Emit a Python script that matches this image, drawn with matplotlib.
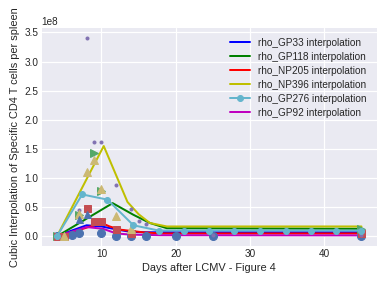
import numpy as np
import matplotlib
matplotlib.use('Agg')
import matplotlib.pyplot as plt

plt.style.use('seaborn-v0_8-darkgrid')
plt.rcParams['font.family'] = ['Liberation Sans', 'DejaVu Sans']

# measured data (units of 1e8 cells)
gp33_days = [4, 6, 7, 10, 12, 14, 16, 20, 25, 45]
gp33_vals = [0.005, 0.03, 0.05, 0.05, 0.01, 0.01, 0.01, 0.01, 0.01, 0.01]
gp118_days = [4, 7, 9, 10, 45]
gp118_vals = [0.0, 0.37, 1.43, 0.77, 0.12]
np205_days = [4, 5, 8, 9, 10, 12, 14, 45]
np205_vals = [0.0, 0.0, 0.48, 0.27, 0.26, 0.13, 0.05, 0.05]
np396_days = [7, 8, 9, 10, 12, 14, 15, 16, 25, 45]
np396_vals = [0.45, 3.4, 1.62, 1.62, 0.88, 0.47, 0.26, 0.22, 0.03, 0.02]
gp276_days = [5, 7, 8, 9, 10, 12, 14]
gp276_vals = [0.0, 0.38, 1.11, 1.31, 0.82, 0.35, 0.12]
gp92_days = [7, 8]
gp92_vals = [0.3, 0.38]

# interpolation curves
gp33_x = [4, 6, 8, 10, 12, 14, 16, 18, 45]
gp33_y = [0, 0.1, 0.19, 0.17, 0.12, 0.075, 0.07, 0.07, 0.07]
gp118_x = [4, 11.5, 14.3, 16.5, 18.8, 45]
gp118_y = [0, 0.57, 0.37, 0.23, 0.14, 0.13]
np205_x = [4, 7.5, 10, 11.1, 12.5, 15.6, 18, 45]
np205_y = [0, 0.13, 0.23, 0.17, 0.115, 0.07, 0.05, 0.05]
np396_x = [4, 10.3, 13.5, 15, 16.5, 18.8, 21, 45]
np396_y = [0, 1.55, 0.59, 0.38, 0.23, 0.17, 0.17, 0.17]
gp276_x = [4, 7.4, 10.8, 14.3, 17.7, 21.1, 24.5, 27.9, 31.3, 34.8, 38.2, 41.6, 45]
gp276_y = [0, 0.72, 0.63, 0.19, 0.10, 0.10, 0.10, 0.10, 0.10, 0.10, 0.10, 0.10, 0.10]
gp92_x = [4, 8, 10.2, 12, 14, 18, 45]
gp92_y = [0, 0.16, 0.13, 0.05, 0.03, 0.02, 0.017]

s = 1e8
def sc(v):
    return np.array(v) * s

fig = plt.figure(figsize=(384 / 72, 283 / 72), dpi=72)
ax = fig.add_axes([0.1086, 0.1318, 0.8724, 0.7703])

lw = 2.0
ax.plot(gp33_x, sc(gp33_y), color='b', lw=lw, label='rho_GP33 interpolation', zorder=2)
ax.plot(gp118_x, sc(gp118_y), color='g', lw=lw, label='rho_GP118 interpolation', zorder=2)
ax.plot(np205_x, sc(np205_y), color='r', lw=lw, label='rho_NP205 interpolation', zorder=2)
ax.plot(np396_x, sc(np396_y), color='y', lw=lw, label='rho_NP396 interpolation', zorder=2)
ax.plot(gp276_x, sc(gp276_y), '-o', color='#64B5CD', lw=lw, ms=6,
        label='rho_GP276 interpolation', zorder=4)
ax.plot(gp92_x, sc(gp92_y), color='m', lw=lw, label='rho_GP92 interpolation', zorder=2)

ax.plot(gp33_days, sc(gp33_vals), 'o', color='#4C72B0', ms=8, zorder=3)
ax.plot(gp118_days, sc(gp118_vals), '>', color='#55A868', ms=8, zorder=3)
ax.plot(np205_days, sc(np205_vals), 's', color='#C44E52', ms=7, zorder=3)
ax.plot(np396_days, sc(np396_vals), '.', color='#8172B2', ms=6, zorder=3)
ax.plot(gp276_days, sc(gp276_vals), '^', color='#CCB974', ms=8, zorder=3)
ax.plot(gp92_days, sc(gp92_vals), '^', color='#4C72B0', ms=7, zorder=3)

ax.set_xlim(1.95, 47.05)
ax.set_ylim(-0.16e8, 3.58e8)
ax.grid(True, color='white', lw=1.2)
ax.tick_params(labelsize=10)
ax.yaxis.get_offset_text().set_fontsize(10)
ax.set_xlabel('Days after LCMV - Figure 4', fontsize=11)
ax.set_ylabel('Cubic Interpolation of Specific CD4 T cells per spleen', fontsize=11)
ax.legend(loc='upper right', fontsize=10, labelspacing=0.4, borderaxespad=0.6)

fig.savefig('out.png', dpi=72)
